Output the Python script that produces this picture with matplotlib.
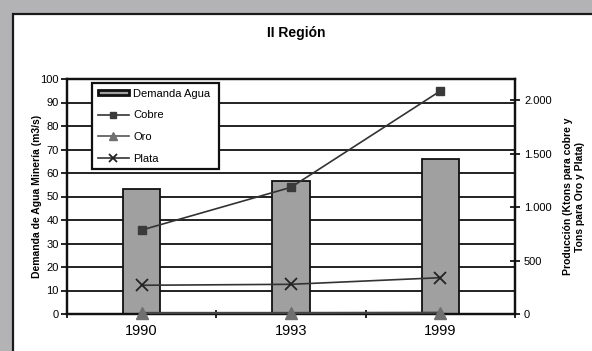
import matplotlib.pyplot as plt
from matplotlib.patches import Rectangle, Patch
from matplotlib.lines import Line2D
from matplotlib.ticker import FuncFormatter

anios = ["1990", "1993", "1999"]
demanda_agua = [53, 56.5, 66]          # m3/s
cobre = [786, 1186, 2088]             # Ktons
oro = [10, 10, 12]                    # Tons
plata = [269, 278, 340]               # Tons

plt.rcParams['font.family'] = ['Liberation Sans', 'DejaVu Sans']

W, H = 592, 351
fig = plt.figure(figsize=(W / 100, H / 100), dpi=100)
fig.patch.set_facecolor('#b3b3b5')

# panel blanco con borde oscuro (sigue fuera de la imagen por abajo y a la derecha)
fig.patches.append(Rectangle((12.5 / W, -0.1), 1.2, (H - 13.5) / H + 0.1, transform=fig.transFigure,
                             facecolor='white', edgecolor='#1a1a1a', linewidth=1.6, zorder=-5))

ax = fig.add_axes([67 / W, (H - 314) / H, 448 / W, 235 / H])
ax.patch.set_alpha(0)
x = list(range(len(anios)))

ax.bar(x, demanda_agua, width=0.25, color='#a0a0a0', edgecolor='#111111', linewidth=1.3, zorder=2)
ax.set_xlim(-0.5, 2.5)
ax.set_ylim(0, 100)
ax.set_yticks(range(0, 101, 10))
ax.yaxis.grid(True, color='#111111', linewidth=1.3)
ax.set_axisbelow(True)
ax.set_xticks([-0.5, 0.5, 1.5, 2.5])
ax.set_xticklabels([])
ax.set_xticks(x, minor=True)
ax.set_xticklabels(anios, minor=True, fontsize=10.5)
ax.tick_params(axis='x', which='major', direction='inout', length=6, width=1.2)
ax.tick_params(axis='x', which='minor', length=0, pad=7)
ax.tick_params(axis='y', direction='out', length=4, width=1.2, labelsize=8, pad=2)
for s in ax.spines.values():
    s.set_linewidth(1.6)
    s.set_color('#111111')
ax.set_ylabel('Demanda de Agua Minería (m3/s)', fontsize=7.5, fontweight='bold', labelpad=-1)

ax2 = ax.twinx()
ax2.set_ylim(0, 2200)
ax2.set_yticks(range(0, 2001, 500))
ax2.yaxis.set_major_formatter(FuncFormatter(lambda v, p: f"{int(v):,}".replace(',', '.')))
ax2.tick_params(axis='y', direction='inout', length=7, width=1.2, labelsize=8, pad=3)
ax2.plot(x, cobre, color='#333333', linewidth=1.2, marker='s', markersize=6,
         markerfacecolor='#3a3a3a', markeredgecolor='#3a3a3a', clip_on=False, zorder=4)
ax2.plot(x, oro, color='#444444', linewidth=1.6, marker='^', markersize=8,
         markerfacecolor='#707070', markeredgecolor='#707070', clip_on=False, zorder=3)
ax2.plot(x, plata, color='#333333', linewidth=1.2, marker='x', markersize=8,
         markeredgewidth=1.3, markeredgecolor='#222222', clip_on=False, zorder=4)
ax2.set_ylabel('Producción (Ktons para cobre y\nTons para Oro y Plata)', fontsize=7.5,
               fontweight='bold', labelpad=8, linespacing=1.25)
for s in ax2.spines.values():
    s.set_linewidth(1.6)
    s.set_color('#111111')

handles = [
    Patch(facecolor='#a0a0a0', edgecolor='#111111', linewidth=2),
    Line2D([], [], color='#333333', lw=1.2, marker='s', markersize=4,
           markerfacecolor='#3a3a3a', markeredgecolor='#3a3a3a'),
    Line2D([], [], color='#555555', lw=1.2, marker='^', markersize=6,
           markerfacecolor='#707070', markeredgecolor='#707070'),
    Line2D([], [], color='#333333', lw=1.2, marker='x', markersize=6,
           markeredgewidth=1.3, markeredgecolor='#222222'),
]
leg = ax2.legend(handles, ['Demanda Agua ', 'Cobre', 'Oro', 'Plata'],
                 loc='upper left', bbox_to_anchor=(25 / 448, 1 - 4 / 235),
                 fontsize=8, frameon=True, fancybox=False, framealpha=1,
                 edgecolor='#111111', handlelength=2.8, handleheight=0.4,
                 labelspacing=1.05, borderpad=0.5, handletextpad=0.4, borderaxespad=0)
leg.get_frame().set_linewidth(1.6)

fig.text(296 / W, 1 - 33 / H, 'II Región', ha='center', va='center',
         fontsize=10, fontweight='bold')

fig.savefig('out.png', dpi=100, facecolor=fig.get_facecolor())
